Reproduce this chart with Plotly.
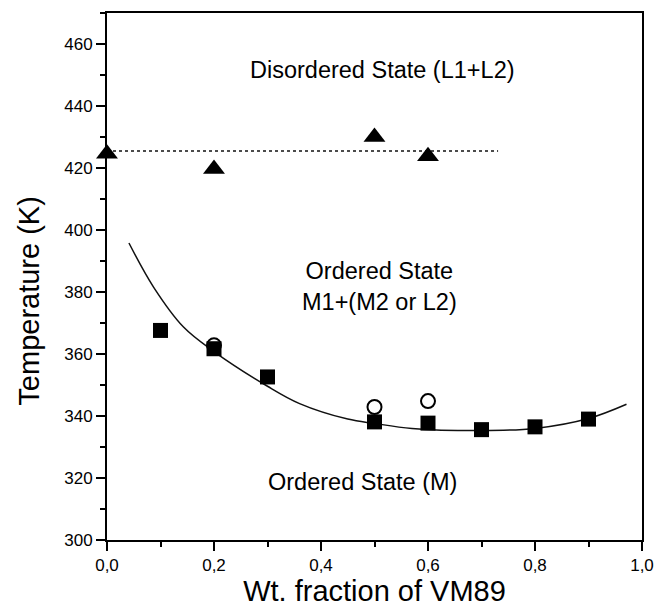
import plotly.graph_objects as go

# Data
tri_x = [0.0, 0.2, 0.5, 0.6]
tri_y = [424.6, 419.7, 430.0, 423.8]

sq_x = [0.1, 0.2, 0.3, 0.5, 0.6, 0.7, 0.8, 0.9]
sq_y = [367.6, 361.7, 352.6, 338.1, 337.7, 335.6, 336.5, 339.0]

circ_x = [0.2, 0.5, 0.6]
circ_y = [362.8, 342.9, 344.8]

fit_x = [0.041, 0.087, 0.143, 0.2, 0.3, 0.36, 0.45, 0.5, 0.57, 0.7, 0.8, 0.9, 0.971]
fit_y = [395.8, 381.6, 368.7, 360.8, 349.6, 344.0, 339.0, 337.6, 336.0, 335.3, 336.0, 339.2, 343.8]

odt_x = [0.0, 0.731]
odt_y = [425.5, 425.5]

x_ticks = [0.0, 0.2, 0.4, 0.6, 0.8, 1.0]
y_ticks = [300, 320, 340, 360, 380, 400, 420, 440, 460]

FONT = "Liberation Sans, Arial, sans-serif"

fig = go.Figure()
fig.add_trace(go.Scatter(x=odt_x, y=odt_y, mode="lines",
                         line=dict(color="#111", width=1.5, dash="dot"),
                         showlegend=False, hoverinfo="skip"))
fig.add_trace(go.Scatter(x=fit_x, y=fit_y, mode="lines",
                         line=dict(color="#111", width=1.5, shape="spline", smoothing=1.0),
                         showlegend=False, hoverinfo="skip"))
fig.add_trace(go.Scatter(x=sq_x, y=sq_y, mode="markers",
                         marker=dict(symbol="square", size=15, color="#000"),
                         showlegend=False))
fig.add_trace(go.Scatter(x=circ_x, y=circ_y, mode="markers",
                         marker=dict(symbol="circle-open", size=14, color="#000",
                                     line=dict(width=2, color="#000")),
                         showlegend=False))
fig.add_trace(go.Scatter(x=tri_x, y=tri_y, mode="markers",
                         marker=dict(symbol="triangle-up", size=19, color="#000"),
                         showlegend=False, cliponaxis=False))

ann_font = dict(family=FONT, size=23.5, color="#000")
fig.add_annotation(x=0.515, y=451.7, text="Disordered State (L1+L2)", showarrow=False,
                   font=ann_font, xanchor="center", yanchor="middle")
fig.add_annotation(x=0.51, y=381.9, text="Ordered State<br>M1+(M2 or L2)", showarrow=False,
                   font=ann_font, xanchor="center", yanchor="middle", align="center")
fig.add_annotation(x=0.478, y=318.7, text="Ordered State (M)", showarrow=False,
                   font=ann_font, xanchor="center", yanchor="middle")

# y-axis title (placed as rotated text, slightly below the plot centre as in the reference)
fig.add_annotation(xref="paper", yref="paper", x=-0.145, y=0.455,
                   text="Temperature (K)", textangle=-90, showarrow=False,
                   font=dict(family=FONT, size=29, color="#000"),
                   xanchor="center", yanchor="middle")

axis_common = dict(
    showline=True, linecolor="#000", linewidth=2, mirror=True,
    ticks="outside", ticklen=9, tickwidth=2, tickcolor="#000",
    showgrid=False, zeroline=False,
    tickfont=dict(family=FONT, size=17, color="#000"),
)

fig.update_xaxes(range=[0, 1.0], tickvals=x_ticks, tickformat=".1f",
                 minor=dict(ticks="outside", ticklen=5, tickwidth=2, tickcolor="#000", dtick=0.1, tick0=0),
                 title=dict(text="Wt. fraction of VM89", font=dict(family=FONT, size=29, color="#000"), standoff=5),
                 **axis_common)
fig.update_yaxes(range=[300, 470], tickvals=y_ticks,
                 minor=dict(ticks="outside", ticklen=5, tickwidth=2, tickcolor="#000", dtick=10, tick0=300),
                 **axis_common)

fig.update_layout(
    width=668, height=614,
    margin=dict(l=107, r=26, t=13, b=74),
    paper_bgcolor="white", plot_bgcolor="white",
    separators=",.",
    font=dict(family=FONT, color="#000"),
)

fig.write_html("out.html")
